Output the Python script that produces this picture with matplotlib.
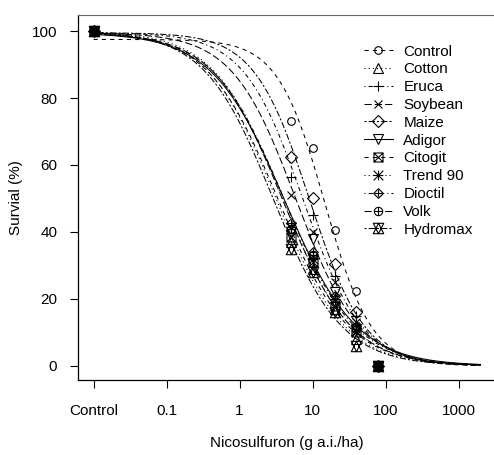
import numpy as np
import matplotlib
matplotlib.use("Agg")
import matplotlib.pyplot as plt
from matplotlib.markers import MarkerStyle
from matplotlib.path import Path

plt.rcParams['font.family'] = ['Liberation Sans', 'DejaVu Sans']
plt.rcParams['lines.scale_dashes'] = False

# doses (0 = untreated control, drawn at the broken-axis position)
doses = [0, 5, 10, 20, 40, 80]
control_pos = 0.01

treatments = ['Control', 'Cotton', 'Eruca', 'Soybean', 'Maize', 'Adigor',
              'Citogit', 'Trend 90', 'Dioctil', 'Volk', 'Hydromax']

# survival (%), one list per treatment
control = [100, 73, 65, 40.5, 22.5, 0]
cotton = [100, 37, 29, 17, 8, 0]
eruca = [100, 56.5, 45, 27, 15, 0]
soybean = [100, 51, 40, 25, 13, 0]
maize = [100, 62.5, 50, 30.5, 16, 0]
adigor = [100, 40, 38, 22, 11, 0]
citogit = [100, 38.5, 31, 18, 10, 0]
trend90 = [100, 41.5, 32, 20, 10.5, 0]
dioctil = [100, 42.7, 34, 21, 12, 0]
volk = [100, 41, 33, 19, 11, 0]
hydromax = [100, 35, 28, 16, 6, 0]

survival = [control, cotton, eruca, soybean, maize, adigor,
            citogit, trend90, dioctil, volk, hydromax]


def combo(*names):
    # glue several marker outlines into one, like R's pch 7, 8, 9, 10, 11
    parts = []
    for n in names:
        st = MarkerStyle(n)
        parts.append(st.get_path().transformed(st.get_transform()))
    return Path.make_compound_path(*parts)


markers = ['o', '^', '+', 'x', 'D', 'v', combo('s', 'x'),
           combo('+', 'x'), combo('D', '+'), combo('o', '+'), combo('^', 'v')]
msizes = [5.5, 6.5, 7, 6, 6, 6.5, 6.5, 7, 7, 6, 7.5]

# R lty 2,3,4,5,6,1 recycled
ltys = [(0, (3, 3)), (0, (0.8, 2.2)), (0, (0.8, 2.2, 3, 2.2)),
        (0, (5.2, 2.2)), (0, (1.5, 1.5, 4.5, 1.5)), '-']
linestyles = [ltys[i % 6] for i in range(len(treatments))]


def ll3(x, b, d, e):
    return d / (1 + np.exp(b * (np.log(x) - np.log(e))))


def fit_ll3(y):
    # plain grid least squares, dose 0 -> upper limit d
    x = np.array(doses[1:], float)
    y = np.array(y, float)
    bs = np.linspace(0.5, 4, 141)
    es = np.exp(np.linspace(np.log(1), np.log(40), 200))
    ds = np.linspace(95, 100, 11)
    B, E, D = np.meshgrid(bs, es, ds, indexing='ij')
    pred = D[..., None] / (1 + (x / E[..., None]) ** B[..., None])
    sse = (D - y[0]) ** 2 + ((pred - y[1:]) ** 2).sum(-1)
    i = np.unravel_index(np.argmin(sse), sse.shape)
    return B[i], D[i], E[i]


fig = plt.figure(figsize=(4.94, 4.55), dpi=100)
ax = fig.add_axes([0.158, 0.165, 0.846, 0.802])

xx = np.logspace(np.log10(control_pos), np.log10(2000), 400)
xplot = [control_pos] + doses[1:]
handles = []
for name, y, m, ms, ls in zip(treatments, survival, markers, msizes, linestyles):
    b, d, e = fit_ll3(y)
    ax.plot(xx, ll3(xx, b, d, e), color='black', lw=0.75, ls=ls)
    ax.plot(xplot, y, ls='none', marker=m, ms=ms, mfc='none', mec='black', mew=0.8)
    h, = ax.plot([], [], color='black', lw=0.75, ls=ls, marker=m, ms=ms,
                 mfc='none', mec='black', mew=0.8)
    handles.append(h)

ax.set_xscale('log')
ax.set_xlim(10 ** -2.212, 10 ** 3.513)
ax.set_ylim(-4.18, 104.78)
ax.set_xticks([0.01, 0.1, 1, 10, 100, 1000])
ax.set_xticklabels(['Control', '0.1', '1', '10', '100', '1000'])
ax.xaxis.set_minor_locator(matplotlib.ticker.NullLocator())
ax.set_yticks([0, 20, 40, 60, 80, 100])
ax.tick_params(labelsize=11, length=6, width=0.8)
ax.tick_params(axis='x', pad=11)
ax.tick_params(axis='y', pad=9)
ax.spines['right'].set_visible(False)
ax.spines['top'].set_color('#666666')
for s in ['left', 'bottom']:
    ax.spines[s].set_linewidth(0.9)

ax.set_xlabel('Nicosulfuron (g a.i./ha)', fontsize=11, labelpad=13)
ax.set_ylabel('Survial (%)', fontsize=11, labelpad=6)

ax.legend(handles, treatments, loc='upper left', bbox_to_anchor=(0.665, 0.94),
          frameon=False, fontsize=11, handlelength=1.9, handletextpad=0.7,
          labelspacing=0.25, borderpad=0)

fig.savefig('out.png', dpi=100)
